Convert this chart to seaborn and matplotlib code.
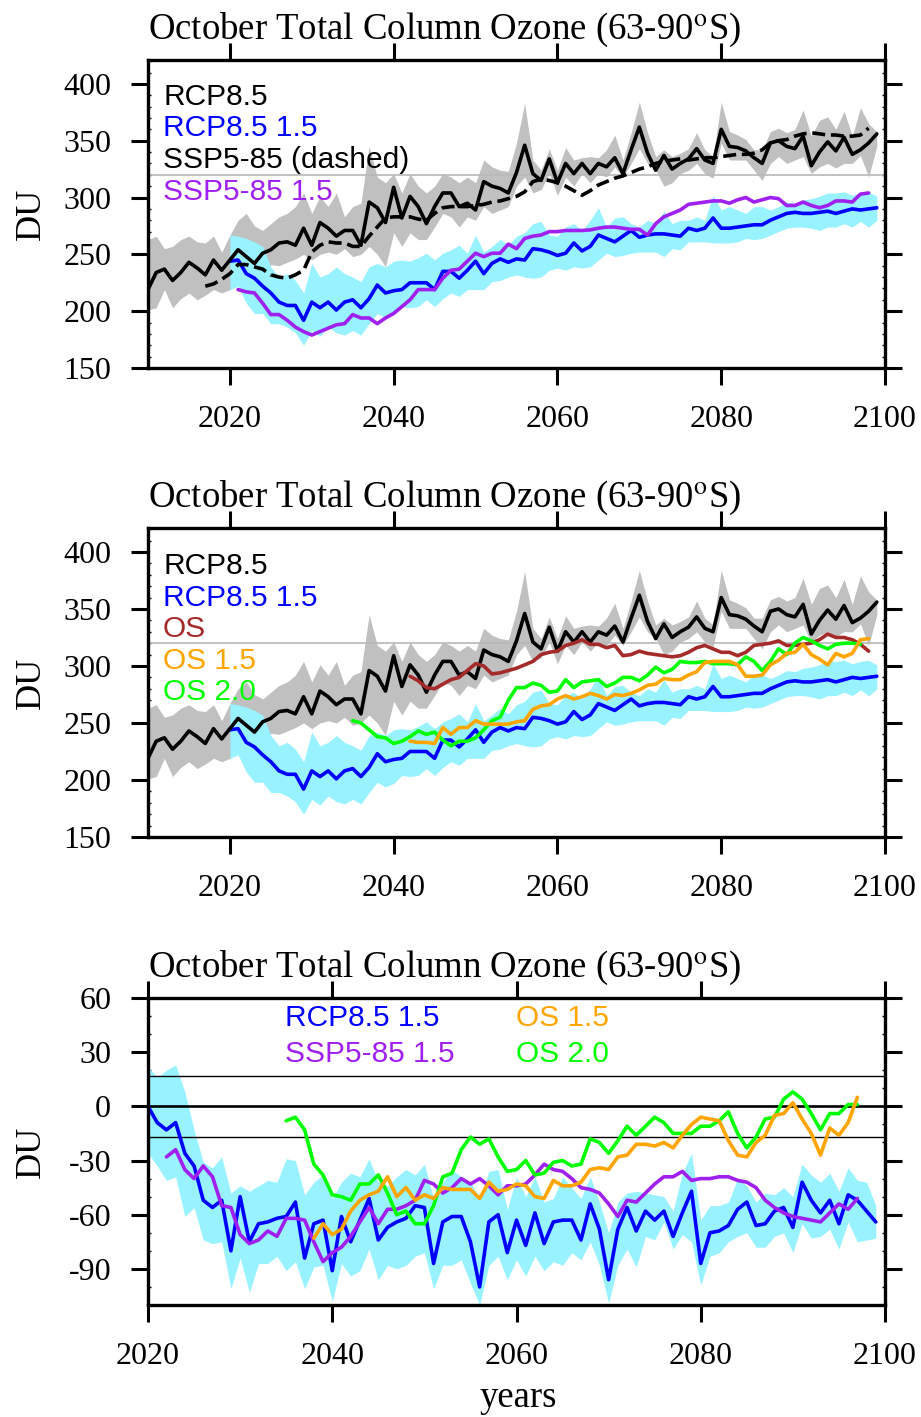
import numpy as np
import pandas as pd
import matplotlib
matplotlib.use("Agg")
import matplotlib.pyplot as plt
import matplotlib.transforms as mtrans
from matplotlib.ticker import MultipleLocator, FixedLocator
import seaborn as sns

# ---------------------------------------------------------------- data
RCP_START = 2010
rcp85 = [219, 234, 237, 227, 234, 243, 238, 232, 245, 236,
         245, 254, 248, 242, 251, 254, 260, 261, 258, 273,
         258, 278, 273, 266, 271, 271, 258, 296, 291, 278,
         309, 282, 301, 292, 277, 292, 304, 304, 292, 295,
         289, 314, 310, 308, 304, 322, 346, 321, 315, 334,
         313, 330, 321, 330, 321, 330, 327, 335, 321, 342,
         362, 339, 324, 337, 325, 330, 334, 343, 333, 330,
         360, 345, 344, 341, 335, 330, 348, 350, 345, 343,
         354, 328, 340, 349, 341, 353, 338, 342, 348, 356]
rcp85_hi = [263, 266, 255, 257, 263, 266, 261, 260, 266, 252,
            267, 280, 286, 275, 271, 277, 283, 286, 292, 304,
            286, 301, 292, 304, 283, 292, 295, 345, 318, 313,
            321, 304, 321, 310, 304, 310, 321, 318, 313, 318,
            313, 333, 327, 324, 323, 348, 383, 333, 324, 343,
            324, 344, 333, 335, 336, 335, 342, 355, 333, 357,
            384, 357, 336, 342, 336, 339, 343, 357, 342, 336,
            384, 358, 355, 351, 342, 342, 358, 361, 357, 360,
            377, 354, 368, 371, 360, 376, 354, 379, 365, 358]
rcp85_lo = [201, 203, 219, 203, 211, 216, 210, 214, 219, 216,
            219, 227, 239, 229, 227, 241, 240, 243, 246, 250,
            245, 250, 252, 250, 255, 248, 250, 257, 250, 239,
            269, 257, 269, 263, 263, 274, 286, 283, 274, 283,
            280, 292, 286, 289, 292, 310, 318, 304, 307, 321,
            302, 318, 310, 321, 313, 321, 318, 327, 318, 330,
            343, 330, 324, 310, 313, 321, 324, 330, 321, 317,
            348, 333, 333, 333, 324, 315, 330, 336, 330, 333,
            336, 321, 327, 330, 326, 330, 330, 337, 318, 345]

RCP15_START = 2020
rcp85_15 = [244, 245, 233, 229, 222, 216, 208, 205, 205, 192,
            208, 203, 208, 201, 208, 210, 203, 211, 223, 216,
            218, 219, 225, 225, 225, 219, 235, 235, 229, 236,
            244, 233, 242, 246, 243, 246, 245, 255, 254, 252,
            249, 251, 260, 253, 257, 267, 264, 261, 266, 271,
            265, 267, 268, 268, 267, 266, 273, 271, 273, 282,
            273, 273, 274, 275, 276, 276, 280, 283, 286, 287,
            286, 286, 287, 288, 286, 288, 290, 289, 290, 291]
rcp85_15_hi = [267, 266, 264, 261, 257, 239, 230, 233, 227, 216,
               242, 230, 233, 239, 233, 230, 226, 239, 242, 239,
               244, 245, 244, 247, 251, 245, 251, 254, 258, 251,
               267, 252, 257, 263, 258, 266, 269, 277, 279, 267,
               266, 274, 277, 271, 280, 291, 274, 282, 283, 277,
               274, 280, 277, 288, 277, 280, 280, 283, 280, 302,
               289, 292, 289, 286, 292, 292, 289, 292, 296, 295,
               298, 299, 301, 304, 304, 305, 302, 304, 305, 301]
rcp85_15_lo = [219, 222, 207, 198, 198, 189, 189, 186, 181, 170,
               183, 178, 186, 181, 179, 183, 179, 189, 198, 194,
               197, 204, 203, 204, 210, 204, 211, 216, 213, 219,
               219, 219, 226, 227, 230, 232, 230, 229, 230, 236,
               238, 236, 239, 238, 239, 245, 251, 248, 249, 251,
               252, 252, 252, 248, 255, 254, 261, 261, 261, 260,
               260, 260, 261, 264, 263, 264, 267, 270, 273, 274,
               274, 273, 271, 274, 274, 277, 274, 279, 274, 280]

SSP_START = 2017
ssp585 = [222, 224, 228,
          233, 241, 241, 239, 237, 232, 230, 229, 232, 236,
          252, 258, 261, 260, 260, 257, 257, 266, 274, 282,
          283, 283, 283, 281, 280, 286, 291, 292, 292, 292,
          293, 294, 296, 297, 299, 301, 305, 314, 316, 315,
          313, 310, 306, 302, 306, 311, 314, 317, 319, 322,
          325, 327, 330, 332, 333, 334, 333, 334, 335, 335,
          336, 337, 338, 338, 339, 342, 348, 350, 351, 354,
          356, 357, 356, 355, 355, 354, 354, 355, 361]

SSP15_START = 2021
ssp585_15 = [219, 217, 216, 207, 197, 197, 192, 186, 182,
             179, 182, 185, 188, 189, 197, 194, 194, 189, 194,
             198, 204, 210, 219, 219, 219, 229, 236, 237, 244,
             251, 248, 251, 251, 259, 255, 264, 266, 267, 270,
             270, 271, 271, 271, 271.5, 273, 274, 274, 273, 272,
             272, 267, 277, 283, 286, 289, 294, 295, 296, 297,
             297, 295, 298, 300, 296, 298, 300, 299, 293, 293,
             296, 293, 291, 293, 297, 297, 296, 303, 304]

OS_START = 2042
os_ = [291, 287, 281, 280, 284, 288, 290, 296,
       302, 300, 293, 294, 296, 298, 301, 304, 310, 312,
       313, 318, 320, 323, 319, 319, 316, 318, 309, 310,
       313, 311, 310, 309, 308, 309, 312, 316, 318, 315,
       312, 312, 309, 312, 318, 319, 320, 322, 318, 318,
       319, 320, 323, 328, 325, 325, 323, 319, 313]

OS15_START = 2042
os_15 = [234, 233, 233, 232, 246, 240, 246, 246,
         252, 249, 249, 249, 249, 251, 252, 262, 265, 266,
         271, 274, 271, 273, 276, 274, 271, 275, 274, 276,
         279, 283, 284, 289, 288, 288, 292, 295, 303, 304,
         304, 304, 301, 291, 291, 292, 301, 305, 311, 312,
         319, 310, 306, 301, 311, 308, 311, 323, 324]

OS20_START = 2035
os_20 = [252, 250, 244, 238, 237,
         232, 234, 238, 243, 240, 242, 235, 230, 234, 234,
         237, 244, 252, 255, 270, 281, 281, 285, 283, 277,
         278, 288, 281, 286, 287, 288, 282, 285, 290, 290,
         287, 292, 299, 294, 297, 304, 303, 303, 304, 302,
         302, 302, 301, 308, 304, 296, 304, 315, 310, 320,
         325, 322, 318, 315, 319, 320, 320, 319]

# differences (bottom panel)
D15_START = 2020
d_rcp85_15 = [0, -9, -13, -9, -26, -33, -52, -56, -52, -80,
              -50, -75, -65, -64, -62, -61, -53, -84, -65, -63,
              -91, -61, -75, -63, -51, -74, -67, -64, -62, -55,
              -56, -87, -64, -61, -61, -75, -100, -64, -60, -81,
              -63, -77, -59, -76, -64, -63, -63, -74, -54, -68,
              -96, -68, -56, -69, -58, -63, -58, -72, -59, -47,
              -87, -70, -69, -66, -57, -53, -66, -65, -58, -56,
              -67, -42, -52, -59, -52, -65, -49, -52, -58, -64]
d_rcp85_15_hi = [22, 16, 20, 23, 8, -13, -31, -34, -28, -48,
                 -44, -47, -44, -41, -42, -29, -30, -49, -42, -38,
                 -51, -42, -37, -39, -29, -42, -44, -39, -35, -38,
                 -32, -51, -42, -35, -39, -42, -51, -36, -35, -57,
                 -39, -50, -39, -53, -51, -39, -45, -51, -39, -53,
                 -70, -53, -48, -47, -48, -49, -50, -58, -37, -26,
                 -63, -55, -55, -53, -40, -44, -53, -48, -49, -45,
                 -50, -32, -38, -42, -37, -47, -34, -41, -42, -55]
d_rcp85_15_lo = [-26, -33, -41, -39, -61, -56, -74, -76, -75, -101,
                 -84, -103, -87, -87, -83, -91, -86, -101, -89, -88,
                 -108, -87, -94, -91, -79, -96, -88, -90, -88, -83,
                 -81, -101, -88, -88, -85, -98, -110, -88, -83, -96,
                 -85, -94, -83, -91, -86, -88, -81, -85, -75, -88,
                 -109, -88, -79, -89, -72, -74, -64, -79, -71, -75,
                 -99, -83, -81, -75, -72, -70, -78, -78, -72, -70,
                 -81, -65, -73, -72, -68, -79, -64, -75, -74, -73]

DSSP_START = 2022
d_ssp585_15 = [-28, -24, -35, -40, -33, -39, -55, -56,
               -71, -76, -74, -69, -72, -62, -62, -63, -75, -86,
               -81, -78, -72, -64, -56, -65, -57, -57, -55, -52,
               -41, -43, -48, -45, -40, -43, -40, -44, -49, -44,
               -44, -43, -38, -32, -35, -36, -40, -45, -46, -48,
               -54, -61, -52, -53, -48, -43, -39, -39, -36, -41,
               -40, -40, -39, -39, -41, -42, -45, -52, -56, -59,
               -61, -62, -63, -64, -59, -54, -57, -51]

DOS15_START = 2038
d_os15 = [-73, -65,
          -71, -68, -58, -52, -49, -47, -39, -50, -45, -52,
          -49, -51, -45, -46, -46, -46, -51, -42, -47, -46,
          -43, -44, -50, -51, -41, -44, -44, -42, -35, -34,
          -35, -28, -27, -21, -21, -22, -20, -23, -16, -10,
          -6, -7, -8, -19, -27, -28, -20, -16, -5, -4,
          2, -7, -15, -27, -12, -16, -9, 5]

DOS20_START = 2035
d_os20 = [-8, -6, -13, -32, -38,
          -49, -50, -52, -43, -43, -38, -48, -60, -58, -65,
          -65, -55, -39, -37, -24, -17, -21, -18, -28, -36,
          -35, -30, -38, -37, -31, -30, -33, -32, -18, -20,
          -26, -19, -11, -16, -11, -6, -9, -15, -15, -15,
          -11, -11, -8, -3, -15, -23, -17, -7, -6, 4,
          8, 4, -4, -13, -4, -4, 1, 1]

REF_LEVEL = 320          # grey reference line (DU)
NOISE_BAND = 17          # +/- lines in difference panel

TITLE = r"October Total Column Ozone (63-90$^{\rm o}$S)"
LABELS_TOP = ["RCP8.5", "RCP8.5 1.5", "SSP5-85 (dashed)", "SSP5-85 1.5"]
LABELS_MID = ["RCP8.5", "RCP8.5 1.5", "OS", "OS 1.5", "OS 2.0"]
LABELS_BOT = ["RCP8.5 1.5", "SSP5-85 1.5", "OS 1.5", "OS 2.0"]
XTICKS = [2020, 2040, 2060, 2080, 2100]

# ---------------------------------------------------------------- style
BLACK = "#000000"
BLUE = "#0000FF"
PURPLE = "#A020F0"
BROWN = "#A52A2A"
ORANGE = "#FFA500"
GREEN = "#00FF00"
GREY_BAND = "#C0C0C0"
CYAN_BAND = "#98F2FF"
REF_GREY = "#B8B8B8"
LW = 2.6

sns.set_style("ticks")
plt.rcParams["font.family"] = ["Liberation Serif", "DejaVu Serif"]
plt.rcParams["mathtext.fontset"] = "stix"
plt.rcParams["axes.unicode_minus"] = False
plt.rcParams["axes.linewidth"] = 2.4
for key in ["text.color", "axes.labelcolor", "axes.edgecolor",
            "xtick.color", "ytick.color"]:
    plt.rcParams[key] = "black"

W, H = 921, 1417
fig = plt.figure(figsize=(W / 100, H / 100), dpi=100)


def yrs(start, vals):
    return np.arange(start, start + len(vals))


def frame(top, bottom):
    return [148 / W, 1 - bottom / H, 737 / W, (bottom - top) / H]


def line(ax, start, vals, color, lw=LW, **kw):
    df = pd.DataFrame({"year": yrs(start, vals), "v": vals})
    sns.lineplot(data=df, x="year", y="v", ax=ax, color=color, linewidth=lw,
                 errorbar=None, **kw)


def band(ax, start, lo, hi, color):
    ax.fill_between(yrs(start, lo), lo, hi, color=color, linewidth=0)


def style_axes(ax, xlim, ylim, yticks, yminor):
    ax.set_xlim(*xlim)
    ax.set_ylim(*ylim)
    ax.xaxis.set_major_locator(FixedLocator(XTICKS))
    ax.yaxis.set_major_locator(FixedLocator(yticks))
    ax.yaxis.set_minor_locator(MultipleLocator(yminor))
    ax.tick_params(which="major", direction="out", length=12.5, width=2.2,
                   top=True, right=True, labeltop=False, labelright=False,
                   labelsize=23, pad=14, colors="black")
    ax.tick_params(which="minor", direction="in", length=2.5, width=1.0,
                   left=True, right=True, top=False, bottom=False)
    ax.set_xlabel("")
    ax.set_ylabel("")
    for s in ax.spines.values():
        s.set_linewidth(2.4)
        s.set_color("black")
        s.set_visible(True)
    title_tr = mtrans.offset_copy(ax.transAxes, fig=fig, x=0, y=21, units="dots")
    ax.text(0, 1, TITLE, transform=title_tr, ha="left", va="baseline",
            fontsize=26.5, color="black")
    pos = ax.get_position()
    fig.text(31 / W, pos.y0 + pos.height / 2, "DU", rotation=90, ha="center",
             va="center", fontsize=26, color="black")


def legend_text(x, y, s, color):
    fig.text(x / W, 1 - y / H, s, color=color, ha="left", va="baseline",
             fontsize=21.5, family=["Liberation Sans", "DejaVu Sans"])


# ---------------------------------------------------------------- panel 1
ax1 = fig.add_axes(frame(60, 368))
band(ax1, RCP_START, rcp85_lo, rcp85_hi, GREY_BAND)
band(ax1, RCP15_START, rcp85_15_lo, rcp85_15_hi, CYAN_BAND)
ax1.axhline(REF_LEVEL, color=REF_GREY, lw=1.2)
line(ax1, RCP15_START, rcp85_15, BLUE)
line(ax1, SSP15_START, ssp585_15, PURPLE)
line(ax1, SSP_START, ssp585, BLACK, linestyle=(0, (3.6, 1.6)))
line(ax1, RCP_START, rcp85, BLACK)
style_axes(ax1, (2010, 2100), (150, 421), [150, 200, 250, 300, 350, 400], 10)
for lab, col, yb in zip(LABELS_TOP, [BLACK, BLUE, BLACK, PURPLE],
                        [105, 136.5, 168, 199.5]):
    legend_text(163, yb, lab, col)

# ---------------------------------------------------------------- panel 2
ax2 = fig.add_axes(frame(528, 837))
band(ax2, RCP_START, rcp85_lo, rcp85_hi, GREY_BAND)
band(ax2, RCP15_START, rcp85_15_lo, rcp85_15_hi, CYAN_BAND)
ax2.axhline(REF_LEVEL, color=REF_GREY, lw=1.2)
line(ax2, RCP15_START, rcp85_15, BLUE)
line(ax2, RCP_START, rcp85, BLACK)
line(ax2, OS_START, os_, BROWN)
line(ax2, OS20_START, os_20, GREEN)
line(ax2, OS15_START, os_15, ORANGE)
style_axes(ax2, (2010, 2100), (150, 421), [150, 200, 250, 300, 350, 400], 10)
for lab, col, yb in zip(LABELS_MID, [BLACK, BLUE, BROWN, ORANGE, GREEN],
                        [574.5, 606, 637.5, 669, 700.5]):
    legend_text(163, yb, lab, col)

# ---------------------------------------------------------------- panel 3
ax3 = fig.add_axes(frame(998, 1305))
band(ax3, D15_START, d_rcp85_15_lo, d_rcp85_15_hi, CYAN_BAND)
ax3.axhline(0, color=BLACK, lw=1.9)
ax3.axhline(NOISE_BAND, color=BLACK, lw=1.0)
ax3.axhline(-NOISE_BAND, color=BLACK, lw=1.0)
line(ax3, D15_START, d_rcp85_15, BLUE)
line(ax3, DSSP_START, d_ssp585_15, PURPLE)
line(ax3, DOS20_START, d_os20, GREEN)
line(ax3, DOS15_START, d_os15, ORANGE)
style_axes(ax3, (2020, 2100), (-110, 60), [-90, -60, -30, 0, 30, 60], 10)
legend_text(285, 1026.5, LABELS_BOT[0], BLUE)
legend_text(285, 1061.5, LABELS_BOT[1], PURPLE)
legend_text(515.5, 1026.5, LABELS_BOT[2], ORANGE)
legend_text(515.5, 1061.5, LABELS_BOT[3], GREEN)
fig.text(518 / W, 1 - 1398 / H, "years", ha="center", va="center",
         fontsize=26.5, color="black")

fig.savefig("out.png", dpi=100)
